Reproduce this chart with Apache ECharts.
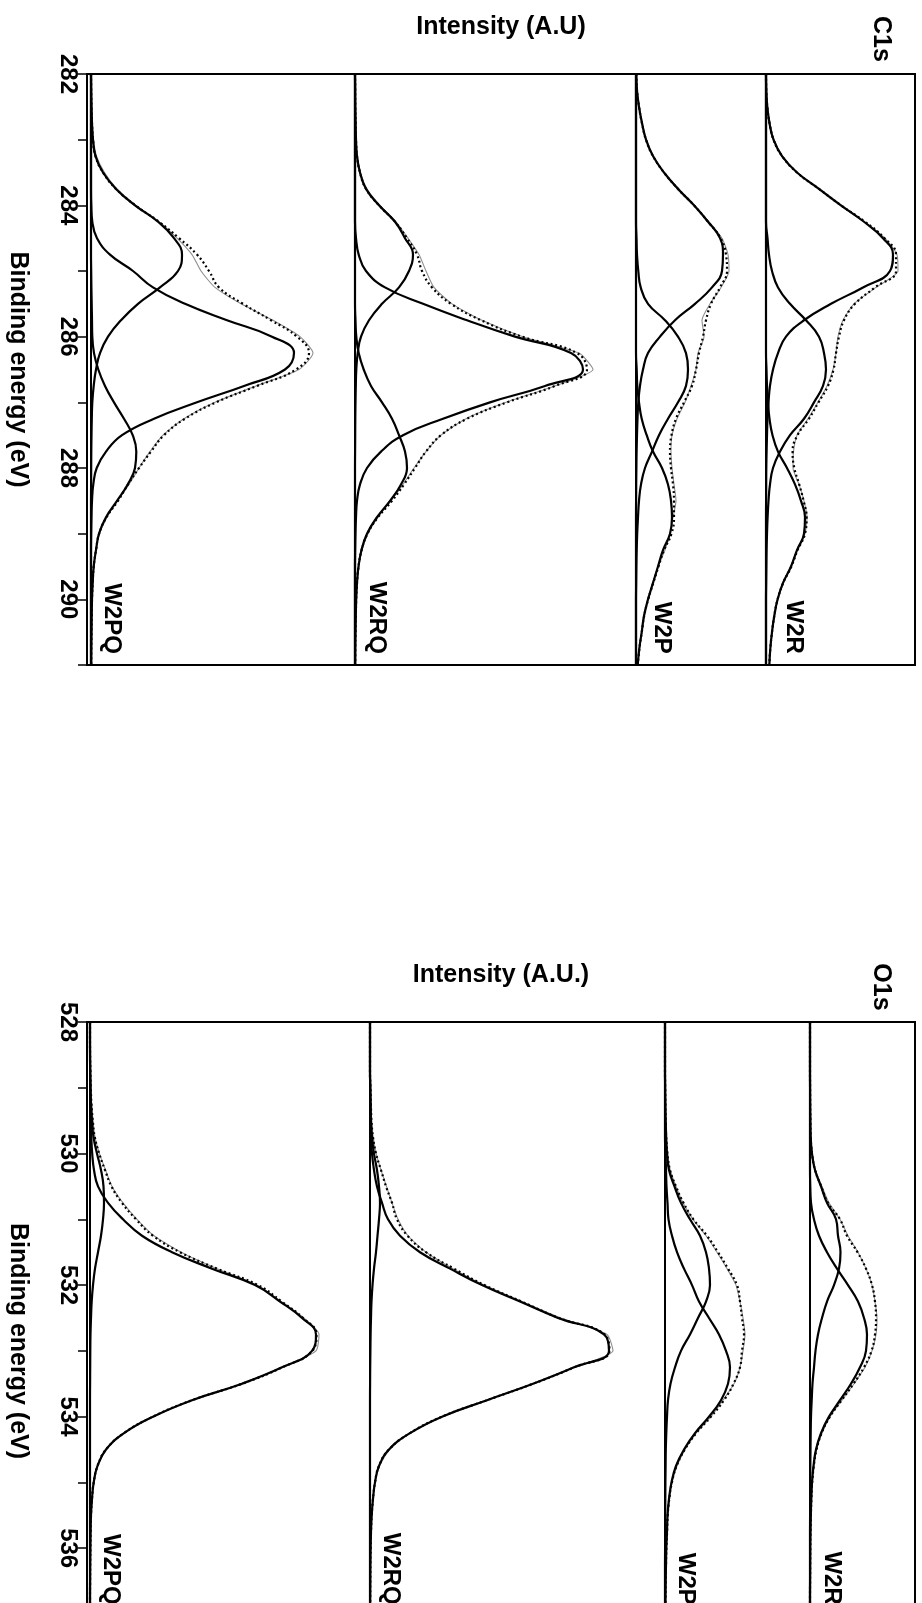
<!DOCTYPE html>
<html>
<head>
<meta charset="utf-8">
<title>XPS C1s and O1s spectra</title>
<script src="https://cdn.jsdelivr.net/npm/echarts@6.0.0/dist/echarts.min.js"></script>
<style>
  html, body { margin: 0; padding: 0; background: #ffffff; overflow: hidden; }
  #chart { width: 922px; height: 1603px; }
</style>
</head>
<body>
<div id="chart"></div>
<script>
// ---------------- C1s region ----------------
const c1sEnergy = [282, 282.25, 282.5, 282.75, 283, 283.25, 283.5, 283.75, 284, 284.25, 284.5, 284.75,
  285, 285.25, 285.5, 285.75, 286, 286.25, 286.5, 286.75, 287, 287.25, 287.5, 287.75,
  288, 288.25, 288.5, 288.75, 289, 289.25, 289.5, 289.75, 290, 290.25, 290.5, 290.75, 291];
const c1sTicks = [282, 284, 286, 288, 290];
const sampleNames = ['W2PQ', 'W2RQ', 'W2P', 'W2R'];
// vertical stacking offset of each spectrum (A.U.)
const c1sOffsets = [4, 268, 549, 679];
const c1sLabelX = [25, 290, 575, 707];
const c1sLabelEnergy = 290.83;

const c1sW2PQPeak1 = [0,0.2,0.5,1,2,4.5,12,25,44,67,83,91,87,69,47,30,17,9,5,2.7,1.3,0.8,0.5,0.3,0.2,0.1,0,0,0,0,0,0,0,0,0,0,0];
const c1sW2PQPeak2 = [0,0,0,0,0,0,0,0,0.3,1.3,6,19,42,62,94,136,181,203,194,153,106,63,31,15,5.7,2.3,1,0.5,0.2,0,0,0,0,0,0,0,0];
const c1sW2PQPeak3 = [0,0,0,0,0,0,0,0,0,0,0,0,0.2,0.4,0.7,1,1.3,3,7.3,14,23,33,41.7,45.3,44,36.7,26,15,8,5,2.7,1.7,1,0.7,0.5,0.3,0.2];
const c1sW2PQFit = [0,0.2,0.5,1,2,4.5,12,25,44.3,68,88,106,118,128,152,180,206,218,205,166,125,94,73,60,48,37,27,15.5,8.2,5,2.7,1.7,1,0.7,0.5,0.3,0.2];
const c1sW2PQRaw = [0.3,0.4,0.8,1.4,2.5,5.5,13.5,26,45,68,86,101,110,124,150,182,209,222,208,165,124,93,72,59,48,38,26,16,8.5,5,3,1.8,1.2,0.8,0.6,0.4,0.3];

const c1sW2RQPeak1 = [0,0.2,0.3,0.6,1,2,5,11,24,40,50,58,54,44,27,14,6,2.7,1.3,0.8,0.5,0.3,0.2,0.1,0,0,0,0,0,0,0,0,0,0,0,0,0];
const c1sW2RQPeak2 = [0,0,0,0,0,0,0,0,0,0,1,3.7,11,30,68,112,160,216,228,190,135,88,48,26,12,5,2,1,0.5,0.2,0,0,0,0,0,0,0];
const c1sW2RQPeak3 = [0,0,0,0,0,0,0,0,0,0,0,0,0,0,0,0.5,1.3,3.7,8.7,16,27,37,44,50,52,46,35,22,12,6.5,3.5,2,1.2,0.8,0.5,0.3,0.2];
const c1sW2RQFit = [0,0.2,0.3,0.6,1,2,5,11,24,40,52,62,67,77,96,126,167,222,232,200,152,112,86,71,60,49,37,23,12.5,6.6,3.5,2,1.2,0.8,0.5,0.3,0.2];
const c1sW2RQRaw = [0.3,0.4,0.6,0.9,1.3,2.5,5.5,12,25,41,53,64,71,79,97,127,168,224,238,200,151,111,86,71,59,48,36,23,13,7,4,2.3,1.4,1,0.7,0.5,0.4];

const c1sW2PPeak1 = [0.3,1,3,6,10,17,28,42,58,72,84,87,86,76,59,39,24,12,7,4,2.3,1.5,1,0.6,0.4,0.2,0.1,0,0,0,0,0,0,0,0,0,0];
const c1sW2PPeak2 = [0,0,0,0,0,0,0,0,0,0,0.5,1,2.3,4.7,12,29,42,50,52,50,42,32,23,16,9,5,3,2,1.2,0.7,0.4,0.2,0,0,0,0,0];
const c1sW2PPeak3 = [0,0,0,0,0,0,0,0,0,0,0,0,0,0,0,0,0,0,0.7,1.3,3,5.7,10.7,17,26,32,35,36,34,27,22,17,12,8,5.7,3.3,1.7];
const c1sW2PFit = [0.3,1,3,6,10,17,28,42,58,72,84.5,90,91,84,75,70,67,63,60,56,48,40,35.5,34,35,37,38,38,35.5,28,22.5,17.3,12.2,8.2,5.8,3.4,1.8];
const c1sW2PRaw = [0.5,1.3,3.5,6.5,10.5,17,28,43,58,73,86,92,93,85,74,66,68,62,60,55,49,41,36,35,36,38,40,37,34,29,22,17,12.5,8.5,6,3.5,2];

const c1sW2RPeak1 = [0,0.3,1.3,3.5,7.5,16,31,53,75,98,117,127,124,97,65,38,20,12,7,4,2.5,1.5,1,0.6,0.3,0.2,0.1,0,0,0,0,0,0,0,0,0,0];
const c1sW2RPeak2 = [0,0,0,0,0,0,0,0,0,0,1.5,3,6,12,24,40,53,58,60,57,48,38,24,14,7,4,2.5,1.6,1,0.6,0.4,0.2,0,0,0,0,0];
const c1sW2RPeak3 = [0,0,0,0,0,0,0,0,0,0,0,0,0,0,0,0,0,0,0.5,1,2,3.5,6.5,12,21,29,35,39,38,31,25,17,11.6,8.3,6,4.3,3.3];
const c1sW2RFit = [0,0.3,1.3,3.5,7.5,16,31,53,75,99,118.5,130,130,109,89,78,73,70,67.5,62,52.5,43,31.5,26.6,28.3,33.2,37.6,40.6,39,31.6,25.4,17.2,11.6,8.3,6,4.3,3.3];
const c1sW2RRaw = [0.2,0.5,1.6,4,8,16.5,31,52,74,98,119,131,132,110,88,77,72,70,67,61,52,42,31,27.5,27,33,38,41,39,31,25,17.5,12,8.5,6.2,4.5,3.5];

// ---------------- O1s region ----------------
const o1sEnergy = [528, 528.25, 528.5, 528.75, 529, 529.25, 529.5, 529.75, 530, 530.25, 530.5, 530.75,
  531, 531.25, 531.5, 531.75, 532, 532.25, 532.5, 532.75, 533, 533.25, 533.5, 533.75,
  534, 534.25, 534.5, 534.75, 535, 535.25, 535.5, 535.75, 536, 536.25, 536.5, 536.75, 537, 537.25, 537.5];
const o1sTicks = [528, 530, 532, 534, 536];
const o1sOffsets = [3, 283, 578, 723];
const o1sLabelX = [24, 304, 599, 745];
const o1sLabelEnergy = 536.86;

const o1sW2PQPeak1 = [0,0,0,0.2,0.5,1,2,3.5,7,11,13.5,14,13,11,8,5,3,1.7,1,0.5,0.3,0.2,0.1,0,0,0,0,0,0,0,0,0,0,0,0,0,0,0,0];
const o1sW2PQPeak2 = [0,0,0.1,0.2,0.3,0.5,0.8,1.3,2.2,4,8,18,33,52,82,122,165,190,212,226,222,192,152,102,63,34,16,7.5,3.7,2,1,0.6,0.4,0.2,0.1,0,0,0,0];
const o1sW2PQFit = [0,0,0.1,0.4,0.8,1.5,2.8,4.8,9.2,15,21.5,32,46,63,90,127,168,191.7,213,226.5,222.3,192.2,152.1,102,63,34,16,7.5,3.7,2,1,0.6,0.4,0.2,0.1,0,0,0,0];
const o1sW2PQRaw = [0.2,0.2,0.3,0.5,1,1.7,3,5,9.5,15.5,22,33,47,64,91,127,167,191,214,229,226,193,151,102,63,34,16.5,7.5,4,2.1,1.1,0.7,0.4,0.3,0.2,0.1,0.1,0,0];

const o1sW2RQPeak1 = [0,0,0,0,0.3,0.6,1,2,4,7,9,10,9,7.5,6,4,2.5,1.5,1,0.6,0.4,0.2,0.1,0,0,0,0,0,0,0,0,0,0,0,0,0,0,0,0];
const o1sW2RQPeak2 = [0,0,0,0,0.2,0.3,0.5,1,2,4,7,12,18,30,50,80,112,150,188,234,239,204,163,117,72,40,19,9,5,3,1.7,1,0.6,0.4,0.3,0.2,0.1,0,0];
const o1sW2RQFit = [0,0,0,0,0.5,0.9,1.5,3,6,11,16,22,27,37.5,56,84,114.5,151.5,189,234.6,239.4,204.2,163.1,117,72,40,19,9,5,3,1.7,1,0.6,0.4,0.3,0.2,0.1,0,0];
const o1sW2RQRaw = [0.1,0.1,0.1,0.2,0.6,1,1.6,3.2,6.2,11,16.5,22,28,38,56,83,114,152,191,237,243,205,163,116,72,40,19.5,9.5,5,3,1.8,1.1,0.7,0.5,0.4,0.3,0.2,0.1,0.1];

const o1sW2PPeak1 = [0,0,0,0,0.2,0.4,0.7,1.2,2,4,9.5,16,25,35,41,44,45,41,33,25,16,10,5.5,3,2,1.3,0.8,0.6,0.4,0.3,0.2,0.1,0.1,0,0,0,0,0,0];
const o1sW2PPeak2 = [0,0,0,0,0,0,0,0,0.5,1,1.5,2.5,3.5,7,12,19,27,34,44,54,61,65,63,56,44,30,19,11,6.5,4,2.5,2,1.3,1,0.7,0.5,0.4,0.3,0.2];
const o1sW2PFit = [0,0,0,0,0.2,0.4,0.7,1.2,2.5,5,11,18.5,28.5,42,53,63,72,75,77,79,77,75,68.5,59,46,31.3,19.8,11.6,6.9,4.3,2.7,2.1,1.4,1,0.7,0.5,0.4,0.3,0.2];
const o1sW2PRaw = [0.1,0.1,0.2,0.2,0.4,0.6,0.9,1.4,2.7,5.2,11,18,28,41,52,62,71,75,78,80,78,75,69,58,46,31,20,12,7,4.5,3,2.2,1.5,1.1,0.8,0.6,0.5,0.4,0.3];

const o1sW2RPeak1 = [0,0,0,0,0.1,0.2,0.4,0.7,2,5,11,17,26,28,30.5,29,24,17,12,8,5.5,4,2.5,1.7,1,0.7,0.5,0.3,0.2,0.1,0.1,0,0,0,0,0,0,0,0];
const o1sW2RPeak2 = [0,0,0,0,0,0,0,0,0,0,0.3,1,4,9,17,27,38,48,54,57,56,50,41,30,19,11,6,3.5,2,1.3,0.8,0.5,0.3,0.2,0.1,0,0,0,0];
const o1sW2RFit = [0,0,0,0,0.1,0.2,0.4,0.7,2,5,11.3,18,30,37,47.5,56,62,65,66,65,61.5,54,43.5,31.7,20,11.7,6.5,3.8,2.2,1.4,0.9,0.5,0.3,0.2,0.1,0,0,0,0];
const o1sW2RRaw = [0.1,0.1,0.1,0.2,0.3,0.4,0.6,1,2.3,5.5,12,19,30,38,48,56,62,65,67,66,62,55,44,32,20,12,6.5,4,2.4,1.5,1,0.6,0.4,0.3,0.2,0.1,0.1,0,0];

// ---------------- assembly ----------------
const FONT = '"Liberation Sans", Arial, Helvetica, sans-serif';

const panels = [
  {
    energy: c1sEnergy, ticks: c1sTicks, min: 282, max: 291, xName: 'Intensity (A.U)', tag: 'C1s',
    offsets: c1sOffsets, labelX: c1sLabelX, labelEnergy: c1sLabelEnergy,
    spectra: [
      { peaks: [c1sW2PQPeak1, c1sW2PQPeak2, c1sW2PQPeak3], fit: c1sW2PQFit, raw: c1sW2PQRaw },
      { peaks: [c1sW2RQPeak1, c1sW2RQPeak2, c1sW2RQPeak3], fit: c1sW2RQFit, raw: c1sW2RQRaw },
      { peaks: [c1sW2PPeak1, c1sW2PPeak2, c1sW2PPeak3], fit: c1sW2PFit, raw: c1sW2PRaw },
      { peaks: [c1sW2RPeak1, c1sW2RPeak2, c1sW2RPeak3], fit: c1sW2RFit, raw: c1sW2RRaw }
    ]
  },
  {
    energy: o1sEnergy, ticks: o1sTicks, min: 528, max: 537.7, xName: 'Intensity (A.U.)', tag: 'O1s',
    offsets: o1sOffsets, labelX: o1sLabelX, labelEnergy: o1sLabelEnergy,
    spectra: [
      { peaks: [o1sW2PQPeak1, o1sW2PQPeak2], fit: o1sW2PQFit, raw: o1sW2PQRaw },
      { peaks: [o1sW2RQPeak1, o1sW2RQPeak2], fit: o1sW2RQFit, raw: o1sW2RQRaw },
      { peaks: [o1sW2PPeak1, o1sW2PPeak2], fit: o1sW2PFit, raw: o1sW2PRaw },
      { peaks: [o1sW2RPeak1, o1sW2RPeak2], fit: o1sW2RFit, raw: o1sW2RRaw }
    ]
  }
];

const grids = [
  { left: 87, top: 74, width: 828, height: 591 },
  { left: 87, top: 1022, width: 828, height: 638 }
];

function toPoints(energy, values, offset) {
  return energy.map((e, i) => [offset + values[i], e]);
}

const series = [];
panels.forEach((p, gi) => {
  p.spectra.forEach((sp, si) => {
    const off = p.offsets[si];
    const common = { type: 'line', xAxisIndex: gi, yAxisIndex: gi, showSymbol: false, symbol: 'none', silent: true };
    series.push(Object.assign({}, common, {
      name: sampleNames[si] + ' raw', data: toPoints(p.energy, sp.raw, off), smooth: 0.2, z: 2,
      lineStyle: { color: '#8f8f8f', width: 1.1 }
    }));
    series.push(Object.assign({}, common, {
      name: sampleNames[si] + ' fit', data: toPoints(p.energy, sp.fit, off), smooth: 0.45, z: 3,
      lineStyle: { color: '#000', width: 2.2, type: [2, 2.8] }
    }));
    sp.peaks.forEach((pk, k) => {
      series.push(Object.assign({}, common, {
        name: sampleNames[si] + ' peak ' + (k + 1), data: toPoints(p.energy, pk, off), smooth: 0.45, z: 4,
        lineStyle: { color: '#000', width: 2.2 }
      }));
    });
    series.push(Object.assign({}, common, {
      name: sampleNames[si] + ' baseline', data: p.energy.map(e => [off, e]), z: 4,
      lineStyle: { color: '#000', width: 2 }
    }));
  });
});

const xAxes = panels.map((p, gi) => ({
  type: 'value', gridIndex: gi, min: 0, max: 828, position: 'top',
  name: p.xName, nameLocation: 'middle', nameGap: 34, nameMoveOverlap: false,
  nameTextStyle: { color: '#000', fontSize: 25, fontWeight: 'bold', fontFamily: FONT },
  axisLine: { show: false }, axisTick: { show: false }, axisLabel: { show: false }, splitLine: { show: false }
}));

const yAxes = panels.map((p, gi) => ({
  type: 'value', gridIndex: gi, inverse: true, min: p.min, max: p.max, interval: 1, position: 'left',
  name: 'Binding energy (eV)', nameLocation: 'middle', nameRotate: -90, nameGap: 57, nameMoveOverlap: false,
  nameTextStyle: { color: '#000', fontSize: 25, fontWeight: 'bold', fontFamily: FONT },
  axisLine: { show: true, lineStyle: { color: '#000', width: 2 } },
  axisTick: { show: true, inside: false, length: 9, lineStyle: { color: '#000', width: 1.5 } },
  axisLabel: {
    show: true, rotate: -90, margin: 7, color: '#000', fontSize: 24, fontWeight: 'bold', fontFamily: FONT,
    formatter: v => (p.ticks.indexOf(Math.round(v * 100) / 100) >= 0 ? String(Math.round(v)) : '')
  },
  splitLine: { show: false }
}));

function rotatedText(text, x, y, align) {
  return {
    type: 'text', x: x, y: y, rotation: -Math.PI / 2, silent: true, z: 10,
    style: {
      text: text, fill: '#000', font: 'bold 24px ' + FONT,
      align: align, verticalAlign: 'middle', textAlign: align, textVerticalAlign: 'middle'
    }
  };
}

const chart = echarts.init(document.getElementById('chart'), null, { renderer: 'canvas' });
chart.setOption({
  animation: false,
  backgroundColor: '#ffffff',
  grid: grids.map(g => Object.assign({
    show: true, borderColor: '#000', borderWidth: 2, backgroundColor: 'transparent',
    containLabel: false, outerBoundsMode: 'none'
  }, g)),
  xAxis: xAxes,
  yAxis: yAxes,
  series: series
});

// panel tags and sample names, placed through the axes of each panel
const texts = [];
panels.forEach((p, gi) => {
  const corner = chart.convertToPixel({ gridIndex: gi }, [828, p.min]);
  const tag = rotatedText(p.tag, corner[0] - 34, corner[1] - 35, 'center');
  tag.style.font = 'bold 25px ' + FONT;
  texts.push(tag);
  sampleNames.forEach((n, i) => {
    const pt = chart.convertToPixel({ gridIndex: gi }, [p.labelX[i], p.labelEnergy]);
    texts.push(rotatedText(n, pt[0], pt[1], 'right'));
  });
});
chart.setOption({ graphic: texts });
</script>
</body>
</html>
